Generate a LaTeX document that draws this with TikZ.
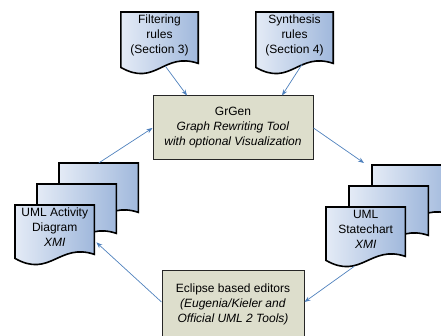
\documentclass[tikz,border=0pt]{standalone}
\usepackage{fontspec}
\setmainfont{Liberation Sans}
\usepackage{tikz}
\usetikzlibrary{arrows.meta}
\usetikzlibrary{backgrounds}

\definecolor{flowblue}{RGB}{79,129,189}
\definecolor{docleft}{RGB}{228,235,246}
\definecolor{docright}{RGB}{160,184,220}
\definecolor{toolfill}{RGB}{221,222,204}

% wavy outline of a document node
\newcommand{\docwave}[1]{%
  \draw[docline] (#1.north west) -- (#1.north east) -- ([yshift=-5pt]#1.south east)
    .. controls +(-35pt,12pt) and +(35pt,-20pt) .. ([yshift=-9pt]#1.south west) -- cycle;}

\begin{document}
\begin{tikzpicture}[
    every node/.style={font=\fontsize{12}{15}\selectfont, align=center},
    docu/.style={minimum width=77pt, minimum height=46pt, inner sep=0pt},
    stackdoc/.style={docu, minimum width=79pt, minimum height=44pt},
    docline/.style={line width=1.6pt, left color=docleft, right color=docright},
    tool/.style={draw=black!85, line width=1pt, fill=toolfill, minimum width=160pt, minimum height=64pt},
    flow/.style={-{Stealth[length=6pt,width=4.5pt]}, draw=flowblue, line width=0.7pt}
  ]

  \useasboundingbox (0,0) rectangle (441pt,336pt);

  % rule files
  \node[docu, anchor=north] (filt) at (159.5pt,324pt) {Filtering\\rules\\(Section 3)};
  \node[docu, anchor=north] (synth) at (294.5pt,324pt) {Synthesis\\rules\\(Section 4)};

  % tools
  \node[tool] (grgen) at (233pt,208pt)
    {GrGen\\\textit{Graph Rewriting Tool}\\\textit{with optional Visualization}};
  \node[tool, anchor=north, minimum width=142pt, minimum height=0pt, inner ysep=13pt, text depth=50pt]
    (ecl) at (233pt,66pt)
    {Eclipse based editors\\\textit{(Eugenia/Kieler and}\\\textit{Official UML 2 Tools)}};

  % model stacks
  \node[stackdoc, anchor=north west] (act) at (15pt,131pt) {UML Activity\\Diagram\\\textit{XMI}};
  \node[stackdoc, anchor=north west] (act2) at ([shift={(22pt,21pt)}]act.north west) {};
  \node[stackdoc, anchor=north west] (act3) at ([shift={(22pt,21pt)}]act2.north west) {};

  \node[stackdoc, anchor=north west] (stc) at (326pt,129pt) {UML\\Statechart\\\textit{XMI}};
  \node[stackdoc, anchor=north west] (stc2) at ([shift={(23pt,21pt)}]stc.north west) {};
  \node[stackdoc, anchor=north west] (stc3) at ([shift={(23pt,21pt)}]stc2.north west) {};

  \begin{scope}[on background layer]
    \docwave{act3} \docwave{act2} \docwave{act}
    \docwave{stc3} \docwave{stc2} \docwave{stc}
    \docwave{filt} \docwave{synth}
  \end{scope}

  % flows
  \draw[flow] ([xshift=6pt,yshift=-8pt]filt.south) -- ([xshift=-46pt]grgen.north);
  \draw[flow] ([xshift=7.5pt,yshift=-6pt]synth.south) -- ([xshift=49pt]grgen.north);
  \draw[flow] (act3.north) -- (grgen.west);
  \draw[flow] (grgen.east) -- ([xshift=-8pt,yshift=2pt]stc3.north west);
  \draw[flow] ([xshift=-11.5pt,yshift=-15pt]stc.south) -- ([yshift=-32pt]ecl.north east);
  \draw[flow] ([yshift=-32pt]ecl.north west) -- ([xshift=2pt,yshift=7pt]act.south east);

\end{tikzpicture}
\end{document}
